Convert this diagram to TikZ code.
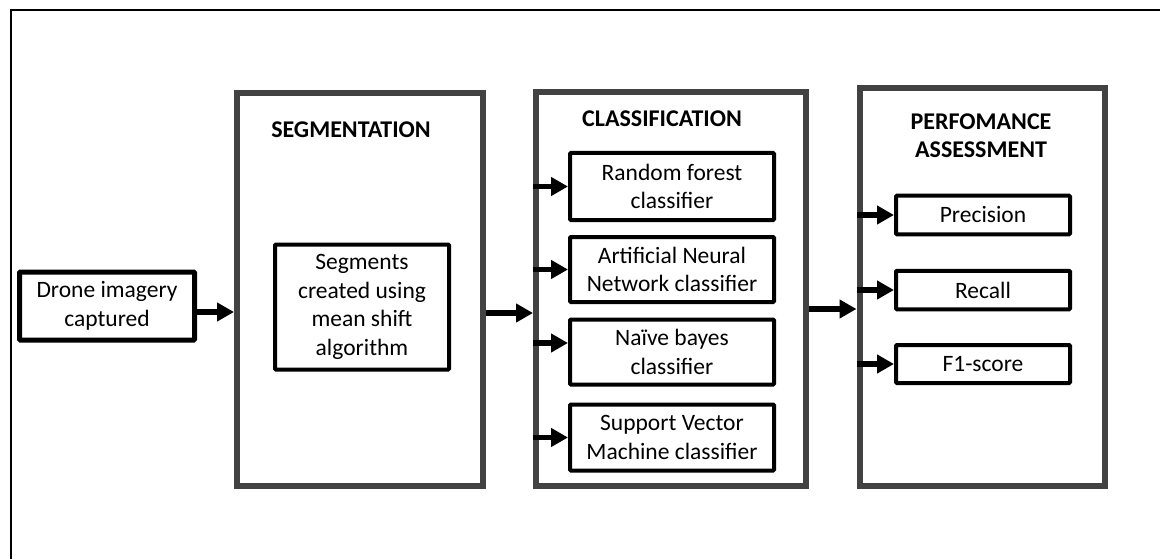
\documentclass[tikz,border=0pt]{standalone}
\usepackage{fontspec}
\setmainfont{Carlito}
\usetikzlibrary{arrows.meta,calc}
\definecolor{boxgray}{HTML}{424242}

\begin{document}
\begin{tikzpicture}[x=1pt,y=-1pt,>={Triangle[length=17pt,width=18pt]},
  stagebox/.style={draw=boxgray,line width=6pt,inner sep=0pt},
  subbox/.style={draw=black,line width=4pt,rounded corners=1pt,inner sep=0pt,align=center,
    font=\fontsize{23.5}{28.5}\selectfont},
  heading/.style={font=\bfseries\fontsize{24}{28}\selectfont,align=center},
  flow/.style={->,line width=5.5pt}]
  \useasboundingbox (0,0) rectangle (1160,559);
  % Rahmen
  \draw[line width=2pt] (10.5,559) -- (10.5,10.5) -- (1160,10.5);
  % Stufen
  \node[stagebox,minimum width=246pt,minimum height=393pt] (seg) at (360,289.5) {};
  \node[stagebox,minimum width=270pt,minimum height=394pt] (cls) at (671,289) {};
  \node[stagebox,minimum width=245pt,minimum height=397pt] (perf) at (982,287) {};
  \node[heading] (segtitle) at (351,130) {SEGMENTATION};
  \node[heading] (clstitle) at (662,119) {CLASSIFICATION};
  \node[heading] (perftitle) at (981,136) {PERFOMANCE\\ASSESSMENT};
  % Eingabe und Segmente
  \node[subbox,line width=5pt,minimum width=175pt,minimum height=68pt] (drone) at (107,306) {Drone imagery\\captured};
  \node[subbox,minimum width=174pt,minimum height=125pt] (segm) at (362,307) {Segments\\created using\\mean shift\\algorithm};
  % Klassifikatoren
  \node[subbox,minimum width=204pt,minimum height=67pt] (rf) at (672,186.5) {Random forest\\classifier};
  \node[subbox,minimum width=204pt,minimum height=65pt] (ann) at (672,269.5) {Artificial Neural\\Network classifier};
  \node[subbox,minimum width=204pt,minimum height=65pt] (nb) at (672,352) {Naïve bayes\\classifier};
  \node[subbox,minimum width=204pt,minimum height=66pt] (svm) at (672,437.5) {Support Vector\\Machine classifier};
  % Metriken
  \node[subbox,minimum width=174pt,minimum height=38.5pt] (prec) at (983,215) {Precision};
  \node[subbox,minimum width=174pt,minimum height=38.5pt] (rec) at (983,290) {Recall};
  \node[subbox,minimum width=174pt,minimum height=38pt] (fone) at (983,364) {F1-score};
  % Pfeile
  \draw[flow] ($(drone.east)+(0,6)$) -- ($(seg.west)+(0,22.5)$);
  \draw[flow] ($(seg.east)+(0,23.5)$) -- ($(cls.west)+(0,24)$);
  \draw[flow] ($(cls.east)+(0,20)$) -- ($(perf.west)+(0,22)$);
  \foreach \n in {rf,ann,svm} \draw[flow] (cls.west |- \n.west) -- (\n.west);
  \draw[flow] ($(cls.west |- nb.west)+(0,-9)$) -- ($(nb.west)+(0,-9)$);
  \foreach \n in {prec,rec,fone} \draw[flow] (perf.west |- \n.west) -- (\n.west);
\end{tikzpicture}
\end{document}
